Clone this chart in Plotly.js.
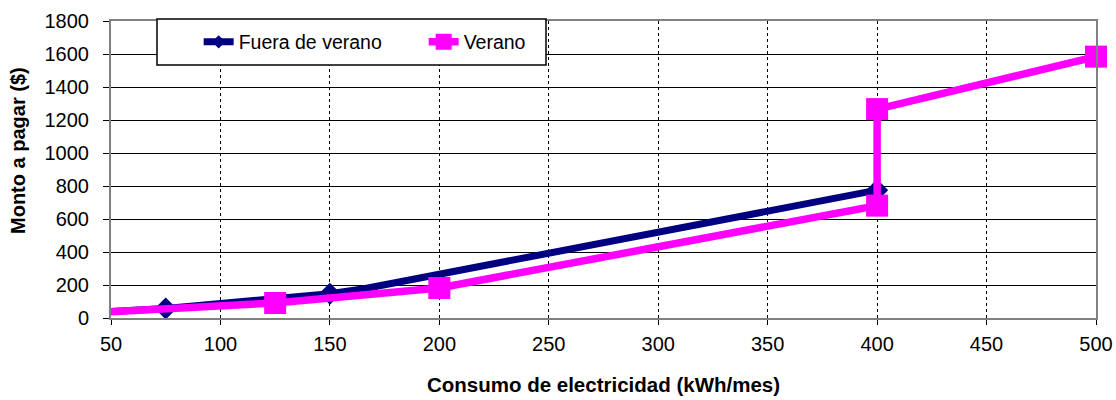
<!DOCTYPE html>
<html>
<head>
<meta charset="utf-8">
<script src="https://cdn.plot.ly/plotly-3.0.1.min.js"></script>
<style>html,body{margin:0;padding:0;background:#fff;}#chart{width:1116px;height:400px;}</style>
</head>
<body>
<div id="chart"></div>
<script>
// Data
const fueraX = [50, 75, 150, 165, 400];
const fueraY = [40, 58, 147, 176, 775];
const veranoX = [50, 125, 200, 400, 400, 500];
const veranoY = [38, 91, 182, 681, 1266, 1584];
const seriesNames = ['Fuera de verano', 'Verano'];
const xTicks = [50, 100, 150, 200, 250, 300, 350, 400, 450, 500];
const yTicks = [0, 200, 400, 600, 800, 1000, 1200, 1400, 1600, 1800];

const font = 'Liberation Sans, Arial, sans-serif';

const traces = [
  {
    x: fueraX, y: fueraY, name: seriesNames[0], mode: 'lines+markers',
    line: {color: '#000080', width: 7},
    marker: {symbol: 'diamond', color: '#000080', opacity: 1, size: [0, 17, 17, 0, 17], line: {width: 0}},
    cliponaxis: false
  },
  {
    x: veranoX, y: veranoY, name: seriesNames[1], mode: 'lines+markers',
    line: {color: '#FF00FF', width: 7.5},
    marker: {symbol: 'square', color: '#FF00FF', opacity: 1, size: [0, 22, 22, 22, 22, 22], line: {width: 0}},
    cliponaxis: false
  }
];

const layout = {
  width: 1116, height: 400,
  margin: {l: 111, r: 20, t: 21, b: 82},
  paper_bgcolor: '#fff', plot_bgcolor: '#fff',
  font: {family: font, size: 20, color: '#000'},
  showlegend: true,
  legend: {
    orientation: 'h', x: 0.089, y: 0.929, xanchor: 'left', yanchor: 'middle',
    borderwidth: 0, bgcolor: 'rgba(0,0,0,0)',
    font: {family: font, size: 19.5, color: '#000'},
    entrywidth: 180, entrywidthmode: 'pixels'
  },
  shapes: [{
    type: 'rect', xref: 'paper', yref: 'paper',
    x0: (157 - 111) / 985, x1: (546 - 111) / 985,
    y0: (318 - 65) / 297, y1: (318 - 19) / 297,
    line: {color: '#000', width: 1.5}, fillcolor: '#fff', layer: 'above'
  }],
  annotations: [{
    text: '<b>Monto a pagar ($)</b>', xref: 'paper', yref: 'paper',
    x: (18 - 111) / 985, y: (318 - 151) / 297, textangle: -90,
    showarrow: false, xanchor: 'center', yanchor: 'middle',
    font: {family: font, size: 20, color: '#000'}
  }],
  xaxis: {
    range: [50, 500], tickvals: xTicks, ticktext: xTicks.map(String),
    showgrid: true, gridcolor: '#000', griddash: 'dot', gridwidth: 1,
    showline: true, linecolor: '#808080', linewidth: 2, mirror: true,
    ticks: 'outside', ticklen: 5, tickcolor: '#000', ticklabelstandoff: 2,
    zeroline: false,
    tickfont: {family: font, size: 20, color: '#000'},
    title: {text: '<b>Consumo de electricidad (kWh/mes)</b>', font: {family: font, size: 20.5, color: '#000'}, standoff: 24}
  },
  yaxis: {
    range: [0, 1800], tickvals: yTicks, ticktext: yTicks.map(String),
    showgrid: true, gridcolor: '#000', gridwidth: 1,
    showline: true, linecolor: '#808080', linewidth: 2, mirror: true,
    ticks: 'outside', ticklen: 6, tickcolor: '#000', ticklabelstandoff: 10,
    zeroline: false,
    tickfont: {family: font, size: 20, color: '#000'}
  }
};

Plotly.newPlot('chart', traces, layout, {displayModeBar: false, staticPlot: true});
</script>
</body>
</html>
